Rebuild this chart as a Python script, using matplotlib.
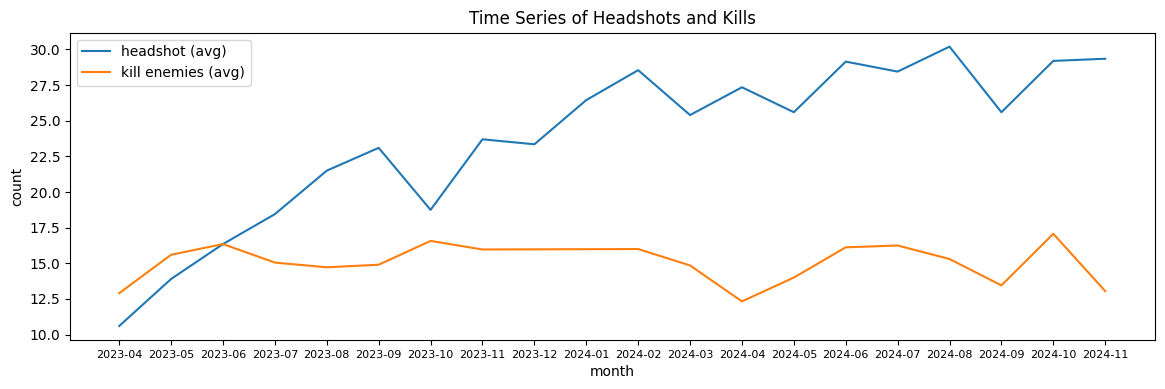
import matplotlib
matplotlib.use('Agg')
import matplotlib.pyplot as plt

months = ['2023-04', '2023-05', '2023-06', '2023-07', '2023-08', '2023-09',
          '2023-10', '2023-11', '2023-12', '2024-01', '2024-02', '2024-03',
          '2024-04', '2024-05', '2024-06', '2024-07', '2024-08', '2024-09',
          '2024-10', '2024-11']
headshot = [10.6, 13.9, 16.35, 18.45, 21.5, 23.1, 18.75, 23.7, 23.35, 26.45,
            28.55, 25.4, 27.35, 25.6, 29.15, 28.45, 30.2, 25.6, 29.2, 29.35]
kills = [12.9, 15.6, 16.35, 15.05, 14.72, 14.9, 16.57, 15.97, 15.98, 15.99,
         16.0, 14.85, 12.33, 14.0, 16.12, 16.25, 15.3, 13.45, 17.07, 13.05]

fig, ax = plt.subplots(figsize=(11.65, 3.89), dpi=100)
ax.plot(months, headshot, label='headshot (avg)')
ax.plot(months, kills, label='kill enemies (avg)')
ax.set_title('Time Series of Headshots and Kills')
ax.set_xlabel('month')
ax.set_ylabel('count')
ax.tick_params(axis='x', labelsize=8)
ax.legend(loc='upper left')
fig.subplots_adjust(left=0.060, right=0.991, top=0.916, bottom=0.126)
fig.savefig('out.png')
